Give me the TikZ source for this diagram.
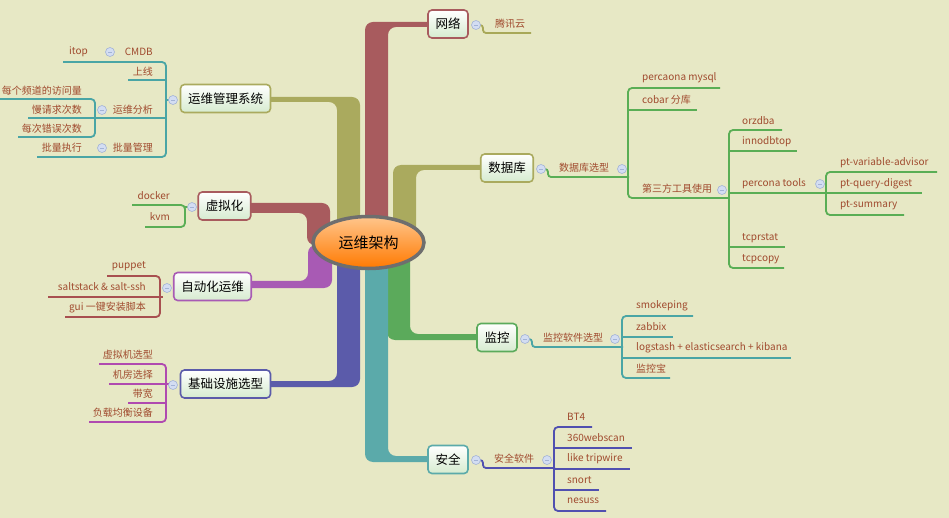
\documentclass[tikz,border=0pt]{standalone}
\usepackage{fontspec}
\setmainfont{Noto Sans CJK SC}
\usetikzlibrary{shapes.geometric}
\definecolor{bgc}{HTML}{E7E8C5}
\definecolor{rRed}{HTML}{A85B5E}
\definecolor{rOlive}{HTML}{AAAA5E}
\definecolor{rPurple}{HTML}{A85AB4}
\definecolor{rBlue}{HTML}{5B5BAA}
\definecolor{rGreen}{HTML}{5BAA5B}
\definecolor{rTeal}{HTML}{5BAAAA}
\definecolor{nodeg}{HTML}{D6EBCF}
\definecolor{leafc}{HTML}{A04A2E}
\definecolor{lOlive}{HTML}{A8A858}
\definecolor{lTeal}{HTML}{4AA5A5}
\definecolor{lGreen}{HTML}{5AAE55}
\definecolor{lBrown}{HTML}{A85050}
\definecolor{lMag}{HTML}{B04AB0}
\definecolor{lBlue}{HTML}{5050B0}
\definecolor{togf}{HTML}{D3DDF2}
\definecolor{togd}{HTML}{A3B3D6}
\definecolor{ellb}{HTML}{6E6E6E}
\tikzset{
  topic/.style={draw=#1, line width=1.6pt, rounded corners=4pt, top color=white, bottom color=nodeg,
    minimum height=28pt, inner xsep=7.5pt, inner ysep=0pt, font=\fontsize{12.5}{14}\selectfont, text=black},
  leaf/.style={text=leafc, font=\fontsize{10}{12}\selectfont, inner sep=0pt},
  tog/.style={circle, draw=togd, fill=togf, line width=0.6pt, minimum size=9pt, inner sep=0pt,
    path picture={\draw[togd, line width=0.8pt] ([xshift=-2pt]path picture bounding box.center) -- ([xshift=2pt]path picture bounding box.center);}},
  br/.style={line width=1.8pt, rounded corners=4pt},
  rib/.style={rounded corners=8pt}
}
\begin{document}
\begin{tikzpicture}[x=1pt,y=-1pt]
\fill[bgc] (0,0) rectangle (949,518);
\useasboundingbox (0,0) rectangle (949,518);

% ---------- ribbons ----------
% 网络
\fill[rRed, rib] (365,240) -- (365,22) -- (440,22) -- (440,27) -- (388,27) -- (388,240) -- cycle;
% 运维管理系统
\fill[rOlive, rib] (337,240) -- (337,102) -- (260,102) -- (260,97) -- (360,97) -- (360,240) -- cycle;
% 数据库
\fill[rOlive, rib] (393,240) -- (393,165) -- (490,165) -- (490,170) -- (416,170) -- (416,240) -- cycle;
% 虚拟化
\fill[rRed, rib] (240,203) -- (330,203) -- (330,245) -- (307,245) -- (307,213) -- (240,213) -- cycle;
% 自动化运维
\fill[rPurple, rib] (240,281) -- (308,281) -- (308,245) -- (332,245) -- (332,288) -- (240,288) -- cycle;
% 基础设施选型
\fill[rBlue, rib] (337,245) -- (337,381) -- (260,381) -- (260,387) -- (360,387) -- (360,245) -- cycle;
% 监控
\fill[rGreen, rib] (410,245) -- (410,334) -- (490,334) -- (490,340) -- (387,340) -- (387,245) -- cycle;
% 安全
\fill[rTeal, rib] (388,245) -- (388,456) -- (440,456) -- (440,462) -- (365,462) -- (365,245) -- cycle;

% ---------- centre ----------
\node[ellipse, draw=ellb, line width=3.5pt, top color=orange!45!white, bottom color=orange!95!red,
  minimum width=111pt, minimum height=52pt, inner sep=0pt, font=\fontsize{15}{17}\selectfont] (root) at (368.5,242.5) {运维架构};

% ---------- main topics ----------
\node[topic=rRed] (net) at (448,24) {网络};
\node[topic=rOlive] (db) at (507,168) {数据库};
\node[topic=rOlive] (ops) at (225.5,98.5) {运维管理系统};
\node[topic=rRed] (virt) at (224.5,206) {虚拟化};
\node[topic=rPurple] (auto) at (212.5,286.5) {自动化运维};
\node[topic=rBlue] (infra) at (225.5,384) {基础设施选型};
\node[topic=rGreen] (mon) at (497,337.5) {监控};
\node[topic=rTeal] (sec) at (448,459.5) {安全};

% ---------- 网络 ----------
\draw[br, lOlive, rounded corners=3pt] (480,25) -- (483,25) -- (483,33) -- (531,33);
\node[tog] (tnet) at (476,25) {};
\node[leaf] (txy) at (510,24) {腾讯云};

% ---------- 运维管理系统 ----------
\draw[br, lTeal] (63,62) -- (166,62) -- (166,157) -- (37,157);
\draw[br, lTeal] (169,100) -- (166,100);
\draw[br, lTeal] (128,80) -- (166,80);
\draw[br, lTeal] (28,118) -- (166,118);
\draw[br, lTeal] (0,99) -- (95,99) -- (95,137) -- (18,137);
\node[tog] (tops) at (173,100) {};
\node[tog] (tcmdb) at (110,52) {};
\node[tog] (tana) at (102,110) {};
\node[tog] (tbat) at (102,148) {};
\node[leaf, anchor=east] (cmdb) at (153,52) {CMDB};
\node[leaf, anchor=east] (itop) at (88,52) {itop};
\node[leaf, anchor=east] (sx) at (153,72) {上线};
\node[leaf, anchor=east] (ana) at (153,110) {运维分析};
\node[leaf, anchor=east] (a1) at (82,91) {每个频道的访问量};
\node[leaf, anchor=east] (a2) at (82,110) {慢请求次数};
\node[leaf, anchor=east] (a3) at (82,129) {每次错误次数};
\node[leaf, anchor=east] (bat) at (153,148) {批量管理};
\node[leaf, anchor=east] (batx) at (82,148) {批量执行};

% ---------- 虚拟化 ----------
\draw[br, lGreen] (132,205) -- (185,205) -- (185,227) -- (145,227);
\draw[br, lGreen] (188,207) -- (185,207);
\node[tog] (tvirt) at (192,207) {};
\node[leaf, anchor=east] (docker) at (170,196) {docker};
\node[leaf, anchor=east] (kvm) at (170,217) {kvm};

% ---------- 自动化运维 ----------
\draw[br, lBrown] (107,276) -- (160,276) -- (160,317) -- (65,317);
\draw[br, lBrown] (48,297) -- (163,297);
\node[tog] (tauto) at (167,288) {};
\node[leaf, anchor=east] (pup) at (146,266) {puppet};
\node[leaf, anchor=east] (salt) at (146,287) {saltstack \& salt-ssh};
\node[leaf, anchor=east] (gui) at (146,308) {gui 一键安装脚本};

% ---------- 基础设施选型 ----------
\draw[br, lMag] (99,364) -- (166,364) -- (166,422) -- (89,422);
\draw[br, lMag] (109,384) -- (169,384);
\draw[br, lMag] (128,403) -- (166,403);
\node[tog] (tinfra) at (173,385) {};
\node[leaf, anchor=east] (i1) at (153,355) {虚拟机选型};
\node[leaf, anchor=east] (i2) at (153,375) {机房选择};
\node[leaf, anchor=east] (i3) at (153,394) {带宽};
\node[leaf, anchor=east] (i4) at (153,413) {负载均衡设备};

% ---------- 数据库 ----------
\draw[br, lGreen, rounded corners=3pt] (545,169) -- (548,169) -- (548,177) -- (629,177);
\draw[br, lGreen] (720,88) -- (628,88) -- (628,198) -- (729,198);
\draw[br, lGreen] (628,110) -- (697,110);
\draw[br, lGreen] (782,130) -- (729,130) -- (729,268) -- (784,268);
\draw[br, lGreen] (729,151) -- (797,151);
\draw[br, lGreen] (729,193) -- (826,193);
\draw[br, lGreen] (729,247) -- (785,247);
\draw[br, lGreen] (937,172) -- (826,172) -- (826,215) -- (904,215);
\draw[br, lGreen] (826,193) -- (922,193);
\node[tog] (tdb) at (541,169) {};
\node[tog] (tdbx) at (622,169) {};
\node[tog] (tdb3) at (722,190) {};
\node[tog] (tpt) at (820,184) {};
\node[leaf] (dbx) at (584,168) {数据库选型};
\node[leaf, anchor=west] (d1) at (642,78) {percaona mysql};
\node[leaf, anchor=west] (d2) at (642,100) {cobar 分库};
\node[leaf, anchor=west] (d3) at (642,189) {第三方工具使用};
\node[leaf, anchor=west] (e1) at (742,121) {orzdba};
\node[leaf, anchor=west] (e2) at (742,142) {innodbtop};
\node[leaf, anchor=west] (e3) at (742,184) {percona tools};
\node[leaf, anchor=west] (e4) at (742,238) {tcprstat};
\node[leaf, anchor=west] (e5) at (742,259) {tcpcopy};
\node[leaf, anchor=west] (p1) at (840,163) {pt-variable-advisor};
\node[leaf, anchor=west] (p2) at (840,184) {pt-query-digest};
\node[leaf, anchor=west] (p3) at (840,205) {pt-summary};

% ---------- 监控 ----------
\draw[br, lTeal, rounded corners=3pt] (529,339) -- (532,339) -- (532,347) -- (623,347);
\draw[br, lTeal] (693,316) -- (622,316) -- (622,378) -- (670,378);
\draw[br, lTeal] (622,337) -- (673,337);
\draw[br, lTeal] (622,358) -- (791,358);
\node[tog] (tmon) at (525,339) {};
\node[tog] (tmonx) at (615,339) {};
\node[leaf] (monx) at (573,338) {监控软件选型};
\node[leaf, anchor=west] (m1) at (636,306) {smokeping};
\node[leaf, anchor=west] (m2) at (636,327) {zabbix};
\node[leaf, anchor=west] (m3) at (636,348) {logstash + elasticsearch + kibana};
\node[leaf, anchor=west] (m4) at (636,369) {监控宝};

% ---------- 安全 ----------
\draw[br, lBlue, rounded corners=3pt] (480,460) -- (483,460) -- (483,468) -- (555,468);
\draw[br, lBlue] (592,427) -- (554,427) -- (554,511) -- (606,511);
\draw[br, lBlue] (554,448) -- (632,448);
\draw[br, lBlue] (554,469) -- (630,469);
\draw[br, lBlue] (554,490) -- (599,490);
\node[tog] (tsec) at (476,460) {};
\node[tog] (tsecx) at (547,460) {};
\node[leaf] (secx) at (514,459) {安全软件};
\node[leaf, anchor=west] (s1) at (567,417) {BT4};
\node[leaf, anchor=west] (s2) at (567,438) {360webscan};
\node[leaf, anchor=west] (s3) at (567,459) {like tripwire};
\node[leaf, anchor=west] (s4) at (567,480) {snort};
\node[leaf, anchor=west] (s5) at (567,501) {nesuss};
\end{tikzpicture}
\end{document}
